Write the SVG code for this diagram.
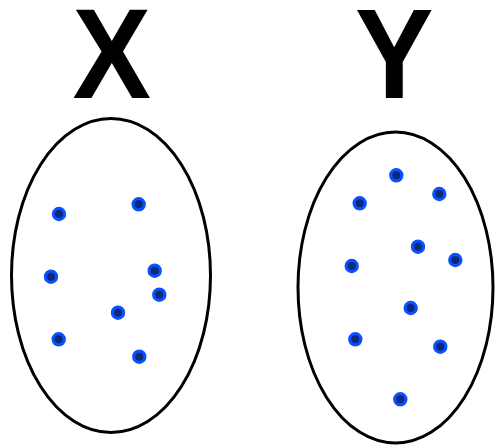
<svg xmlns="http://www.w3.org/2000/svg" width="495" height="445" viewBox="0 0 495 445">
<defs>
<style>
.lbl{font-family:"Liberation Sans",Arial,sans-serif;font-weight:bold;font-size:128px;fill:#000;text-anchor:middle}
.set{fill:#fff;stroke:#000;stroke-width:3}
.dot{fill:#082a78;stroke:#0b50ff;stroke-width:3.2}
</style>
<g id="dot"><circle class="dot" r="5.6"/></g>
</defs>
<rect width="495" height="445" fill="#fff"/>
<g id="setX">
<text class="lbl" transform="translate(111.7,98) scale(0.92,1)">X</text>
<ellipse class="set" cx="111" cy="275.5" rx="99.5" ry="157"/>
<use href="#dot" x="59" y="214"/>
<use href="#dot" x="138.7" y="204.3"/>
<use href="#dot" x="51" y="276.7"/>
<use href="#dot" x="154.7" y="270.7"/>
<use href="#dot" x="159.3" y="294.7"/>
<use href="#dot" x="118" y="312.7"/>
<use href="#dot" x="58.7" y="339.3"/>
<use href="#dot" x="139.3" y="356.7"/>
</g>
<g id="setY">
<text class="lbl" transform="translate(394.2,98) scale(0.92,1)">Y</text>
<ellipse class="set" cx="395.5" cy="287.5" rx="97.5" ry="155.5"/>
<use href="#dot" x="396.3" y="175.3"/>
<use href="#dot" x="439.3" y="194"/>
<use href="#dot" x="359.7" y="203.3"/>
<use href="#dot" x="418" y="246.7"/>
<use href="#dot" x="455.3" y="260"/>
<use href="#dot" x="351.7" y="266"/>
<use href="#dot" x="410.7" y="308"/>
<use href="#dot" x="355.3" y="339.3"/>
<use href="#dot" x="440.3" y="346.7"/>
<use href="#dot" x="400.3" y="399.3"/>
</g>
<g id="connectors"/>
</svg>
